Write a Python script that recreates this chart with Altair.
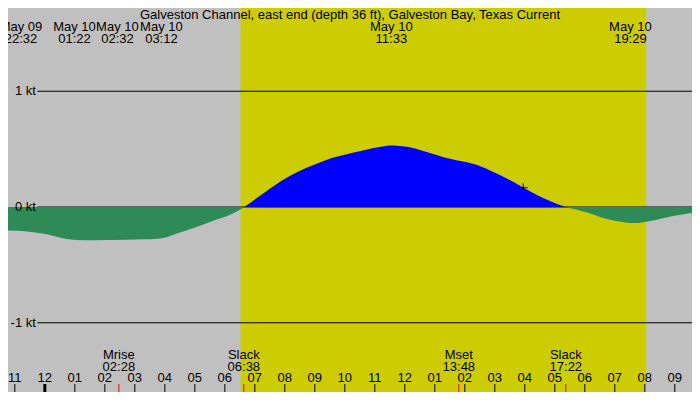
import altair as alt
import pandas as pd

# current speed (kt), hours from midnight May 10 (negative = May 9)
hours = [-1.228, -0.577, 0.075, 0.726, 1.378, 2.029, 2.681, 3.332, 3.984, 4.407,
         4.961, 5.612, 6.264, 6.650, 7.349, 7.893, 8.436, 8.977, 9.521, 10.065,
         10.606, 11.150, 11.583, 12.235, 12.779, 13.323, 13.756, 14.300, 14.840, 15.384,
         15.928, 16.469, 17.013, 17.367, 18.098, 18.642, 19.186, 19.619, 20.052, 20.596,
         21.140, 21.573]
knots = [-0.202, -0.211, -0.236, -0.277, -0.288, -0.285, -0.282, -0.279, -0.265, -0.229,
         -0.182, -0.119, -0.056, 0.000, 0.129, 0.226, 0.304, 0.365, 0.420, 0.456,
         0.489, 0.519, 0.531, 0.511, 0.470, 0.428, 0.401, 0.371, 0.316, 0.249,
         0.171, 0.096, 0.033, 0.000, -0.050, -0.097, -0.128, -0.139, -0.128, -0.097,
         -0.070, -0.050]

# daylight
sunrise, sunset = 6.52, 20.04

# levels
levels = [1, 0, -1]
level_labels = ["1 kt", "0 kt", "-1 kt"]

# hour ticks along the bottom
tick_hours = list(range(-1, 22))
tick_labels = ["11", "12", "01", "02", "03", "04", "05", "06", "07", "08", "09", "10",
               "11", "12", "01", "02", "03", "04", "05", "06", "07", "08", "09"]

# events on the bottom (moon / slack)
bottom_names = ["Mrise", "Slack", "Mset", "Slack"]
bottom_times = ["02:28", "06:38", "13:48", "17:22"]
bottom_hours = [2.467, 6.633, 13.8, 17.367]

# max current events on top (label sits at the anchor hour)
top_dates = ["May 09", "May 10", "May 10", "May 10", "May 10", "May 10"]
top_times = ["22:32", "01:22", "02:32", "03:12", "11:33", "19:29"]
top_anchor = [-0.795, 0.987, 2.42, 3.886, 11.55, 19.52]

now_hour, now_knots = 15.948, 0.166

title = "Galveston Channel, east end (depth 36 ft), Galveston Bay, Texas Current"

W, H = 684, 384
sx, sy = W / 700, H / 400
GREY, YELLOW, GREEN, BLUE = "#c0c0c0", "#cccc00", "#2e8b57", "#0000ff"
FONT, FS = "Liberation Sans", 13

xs = alt.Scale(domain=[-1.228, 21.573], nice=False, zero=False)
ys = alt.Scale(domain=[-1.598, 1.719], nice=False, zero=False)
X = lambda f: alt.X(f, type="quantitative", scale=xs, axis=None)
Y = lambda f: alt.Y(f, type="quantitative", scale=ys, axis=None)

# split the curve at the slack points into ebb / flood / ebb pieces
df = pd.DataFrame({"h": hours, "v": knots})
slack1, slack2 = df.index[df["v"] == 0]
pieces = []
for seg, (a, b) in enumerate([(0, slack1), (slack1, slack2), (slack2, len(df) - 1)]):
    p = df.iloc[a:b + 1].copy()
    p["seg"] = seg
    pieces.append(p)
curve = pd.concat(pieces)
curve["dir"] = curve["seg"].map({0: "ebb", 1: "flood", 2: "ebb"})

day = alt.Chart(pd.DataFrame({"a": [sunrise], "b": [sunset]})).mark_rect(color=YELLOW).encode(
    x=X("a"), x2="b", y=alt.value(0), y2=alt.value(H))

lev = pd.DataFrame({"lv": levels, "lab": level_labels})
lines = alt.Chart(lev).mark_rule(color="black", strokeWidth=1).encode(
    x=alt.value(30 * sx), x2=alt.value(W), y=Y("lv"))
lev_text = alt.Chart(lev).mark_text(align="right", baseline="middle", font=FONT, fontSize=FS).encode(
    x=alt.value(28.5 * sx), y=Y("lv"), text="lab")

area = alt.Chart(curve).mark_area(interpolate="monotone", clip=True).encode(
    x=X("h"), y=Y("v"), y2=alt.datum(0), detail="seg:N",
    color=alt.Color("dir:N", scale=alt.Scale(domain=["ebb", "flood"], range=[GREEN, BLUE]), legend=None))

tk = pd.DataFrame({"h": tick_hours, "lab": tick_labels})
ticks = alt.Chart(tk).mark_rule(color="black", strokeWidth=1).encode(
    x=X("h"), y=alt.value(391.7 * sy), y2=alt.value(H))
midnight = alt.Chart(tk[tk["h"] == 0]).mark_rule(color="black", strokeWidth=3).encode(
    x=X("h"), y=alt.value(391.7 * sy), y2=alt.value(H))
tick_text = alt.Chart(tk).mark_text(baseline="middle", font=FONT, fontSize=FS).encode(
    x=X("h"), y=alt.value(385.5 * sy), text="lab")

bot = pd.DataFrame({"h": bottom_hours, "name": bottom_names, "t": bottom_times})
red = alt.Chart(bot).mark_rule(color="red", strokeWidth=1).encode(
    x=X("h"), y=alt.value(391.7 * sy), y2=alt.value(H))
bot_name = alt.Chart(bot).mark_text(baseline="middle", font=FONT, fontSize=FS).encode(
    x=X("h"), y=alt.value(361.5 * sy), text="name")
bot_time = alt.Chart(bot).mark_text(baseline="middle", font=FONT, fontSize=FS).encode(
    x=X("h"), y=alt.value(373.5 * sy), text="t")

top = pd.DataFrame({"h": top_anchor, "d": top_dates, "t": top_times})
top_date = alt.Chart(top).mark_text(baseline="middle", font=FONT, fontSize=FS).encode(
    x=X("h"), y=alt.value(20 * sy), text="d")
top_time = alt.Chart(top).mark_text(baseline="middle", font=FONT, fontSize=FS).encode(
    x=X("h"), y=alt.value(32 * sy), text="t")

head = alt.Chart(pd.DataFrame({"t": [title]})).mark_text(baseline="middle", font=FONT, fontSize=FS).encode(
    x=alt.value(W / 2), y=alt.value(7.5 * sy), text="t")

now = alt.Chart(pd.DataFrame({"h": [now_hour], "v": [now_knots]})).mark_point(
    shape="M -1 0 L 1 0 M 0 -1 L 0 1", filled=False, color="black", strokeWidth=1,
    size=81, opacity=1).encode(x=X("h"), y=Y("v"))

chart = alt.layer(
    day, lines, area, lev_text, ticks, midnight, red, tick_text,
    bot_name, bot_time, top_date, top_time, head, now,
).properties(
    width=W, height=H, padding=0, autosize="none", background=GREY
).configure_view(stroke=None)

chart.save("out.html", embed_options={"renderer": "svg", "actions": False})
